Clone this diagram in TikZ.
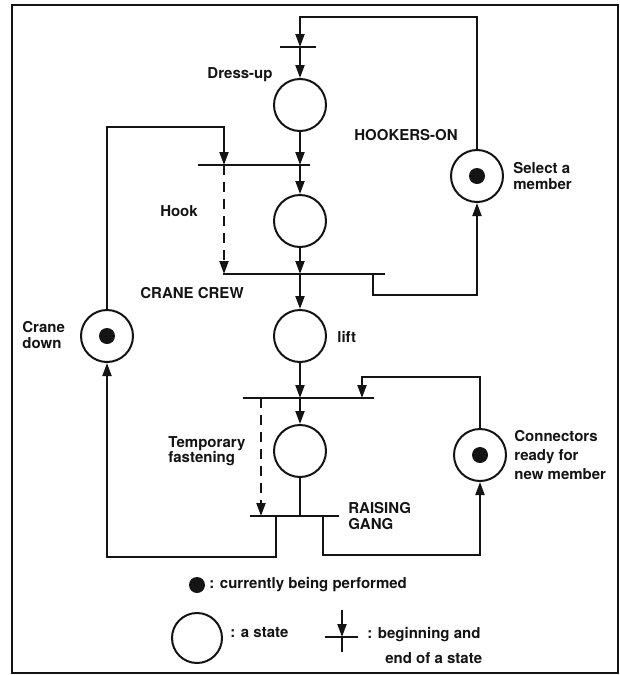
\documentclass[tikz,border=0pt]{standalone}
\usepackage{fontspec}
\setmainfont{TeX Gyre Heros}
\usepackage{tikz}
\usetikzlibrary{arrows.meta,positioning,calc}
\definecolor{scInk}{HTML}{141414}
\tikzset{
  % State circle
  st/.style={circle,draw=scInk,line width=1pt,
    minimum size=26pt,inner sep=0pt},
  % State being performed (dot inside)
  busy/.style={st,path picture={
    \fill[scInk] (path picture bounding box.center) circle (4pt);}},
  % Begin / end bar
  bar/.style={draw=scInk,line width=1pt},
  % Arrows
  arr/.style={-{Triangle[length=6.5pt,width=4.5pt]},line width=1pt,color=scInk},
  arrd/.style={-{Triangle[length=6.5pt,width=4.5pt]},line width=1pt,color=scInk,
    dash pattern=on 5pt off 3.5pt},
  ln/.style={line width=1pt,color=scInk},
  lbl/.style={font=\fontsize{7.5}{7.8}\selectfont\bfseries,text=scInk,
    inner sep=0pt,align=left},
}
\begin{document}
\begin{tikzpicture}[x=0.5pt,y=-0.5pt]
  \useasboundingbox (0,0) rectangle (620,675);
  \fill[white] (0,0) rectangle (620,675);
  \draw[scInk,line width=1.4pt] (12,5) rectangle (618,673);

  % States
  \node[st] (du) at (300,105) {};
  \node[st] (hk) at (300,221) {};
  \node[st] (lf) at (300,336) {};
  \node[st] (tf) at (300,451) {};
  \node[busy] (sel) at (477,176) {};
  \node[busy] (cd) at (107,336) {};
  \node[busy] (cn) at (480,455) {};

  % Bars (begin / end of a state)
  \coordinate (b1l) at (280,47);  \coordinate (b1r) at (316,47);
  \coordinate (b2l) at (198,165); \coordinate (b2r) at (310,165);
  \coordinate (b3l) at (223,274); \coordinate (b3r) at (385,274);
  \coordinate (b4l) at (243,398); \coordinate (b4r) at (374,398);
  \coordinate (b5l) at (250,516); \coordinate (b5r) at (339,516);
  \foreach \b in {b1,b2,b3,b4,b5}
    \draw[bar] (\b l) -- (\b r);

  % Corners of the loops
  \coordinate (top) at (300,17);
  \coordinate (hkd) at (224,127);
  \coordinate (sld) at (373,295);
  \coordinate (cnd) at (362,377);
  \coordinate (tfd) at (261,398);
  \coordinate (cdr) at (276,557);
  \coordinate (cnr) at (323,555);

  % Hookers-on
  \draw[arr] (sel.north) |- (top) -- (du |- b1l);
  \draw[arr] (du |- b1l) -- (du.north);
  \draw[arr] (du.south) -- (du |- b2l);
  \draw[arr] (hk |- b2l) -- (hk.north);
  \draw[arr] (hk.south) -- (hk |- b3l);
  \draw[arr] (sld |- b3l) -- (sld) -| (sel.south);

  % Crane crew
  \draw[arr] (cd.north) |- (hkd) -- (hkd |- b2l);
  \draw[arrd] (hkd |- b2l) -- (hkd |- b3l);
  \draw[arr] (lf |- b3l) -- (lf.north);
  \draw[arr] (lf.south) -- (lf |- b4l);

  % Raising gang
  \draw[arr] (cn.north) |- (cnd) -- (cnd |- b4l);
  \draw[arr] (tf |- b4l) -- (tf.north);
  \draw[arrd] (tfd) -- (tfd |- b5l);
  \draw[ln] (tf.south) -- (tf |- b5l);
  \draw[arr] (cdr |- b5l) -- (cdr) -| (cd.south);
  \draw[arr] (cnr |- b5l) -- (cnr) -| (cn.south);

  % Labels
  \node[lbl] (tdu) at (240,75) {Dress-up};
  \node[lbl] (thk) at (179,211) {Hook};
  \node[lbl,anchor=west] (tlf) at (337,337) {lift};
  \node[lbl,anchor=west] (ttf) at (168,451) {Temporary\\fastening};
  \node[lbl,anchor=west] (tsel) at (513,176) {Select a\\member};
  \node[lbl,anchor=west] (tcd) at (22,335) {Crane\\down};
  \node[lbl,anchor=west,font=\fontsize{7.5}{9.3}\selectfont\bfseries]
    (tcn) at (514,455) {Connectors\\ready for\\new member};
  \node[lbl] (thoo) at (406,135) {HOOKERS-ON};
  \node[lbl] (tcc) at (192,293) {CRANE CREW};
  \node[lbl,anchor=west] (trg) at (348,516) {RAISING\\GANG};

  % Legend
  \fill[scInk] (197,585) circle (4pt) coordinate (lgdot);
  \node[lbl,anchor=west] (tlgdot) at (209,585) {: currently being performed};
  \node[st,minimum size=25pt] (lgst) at (197,638) {};
  \node[lbl,anchor=west] (tlgst) at (230,633) {: a state};
  \coordinate (lgbt) at (342,610);
  \coordinate (lgb) at (342,637);
  \coordinate (lgbb) at (342,652);
  \draw[arr] (lgbt) -- (lgb);
  \draw[ln] (lgb) -- (lgbb);
  \draw[bar] (325,637) -- (358,637);
  \node[lbl,anchor=west] (tlgb) at (367,635) {: beginning and};
  \node[lbl,anchor=west] (tlgb2) at (385,658) {end of a state};
\end{tikzpicture}
\end{document}
